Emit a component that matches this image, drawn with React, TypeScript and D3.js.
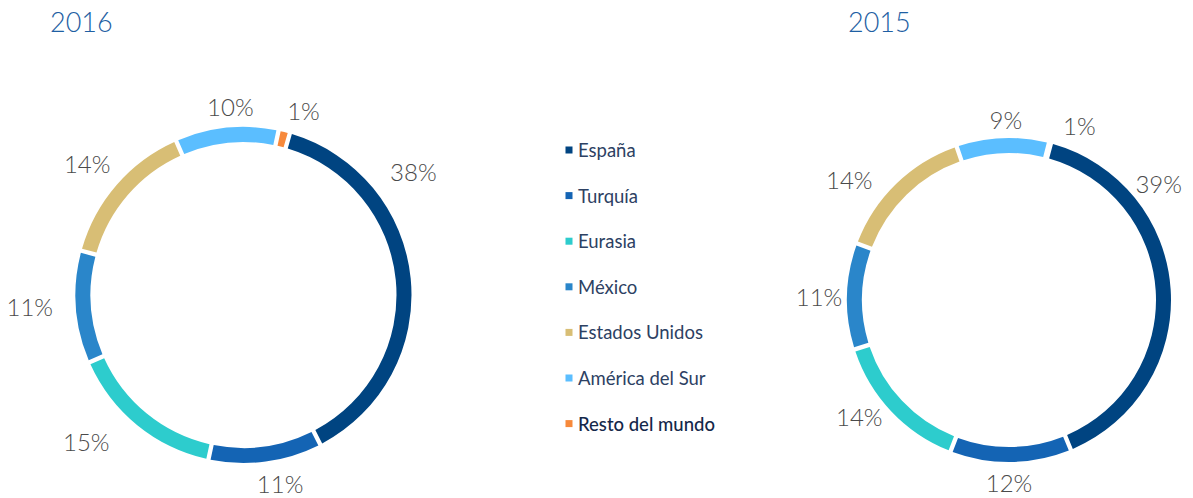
import React from "react";
import * as d3 from "d3";

const categories = ["España", "Turquía", "Eurasia", "México", "Estados Unidos", "América del Sur", "Resto del mundo"];
const colors = ["#004481", "#1464b4", "#2dcccd", "#2a86ca", "#d8be75", "#5bbeff", "#f7893b"];
const values2016 = [38.0, 10.9, 15.1, 10.8, 14.2, 9.9, 1.1];
const labels2016 = ["38%", "11%", "15%", "11%", "14%", "10%", "1%"];
const values2015 = [39.6, 12.1, 14.2, 10.6, 14.1, 9.2, 0.2];
const labels2015 = ["39%", "12%", "14%", "11%", "14%", "9%", "1%"];
const years = ["2016", "2015"];

// label placement (layout): angle in degrees clockwise from top, distance from centre
const labelPlace2016 = [[54, 210], [169, 192], [227, 215], [267, 214], [310, 204], [356, 189], [18, 194]];
const labelPlace2015 = [[52, 190], [180, 182], [232, 190], [271, 190], [307, 200], [359, 181], [22, 188]];

const W = 1193, H = 498;
const FONT = "Lato, 'Open Sans', sans-serif";

function Donut({ cx, cy, R, thick, startDeg, values, labels, place }: any) {
  const start = (startDeg * Math.PI) / 180;
  const pie = d3.pie<number>().sort(null).value((d) => d).startAngle(start).endAngle(start + 2 * Math.PI);
  const arcs = pie(values);
  const arcGen = d3.arc<any>().innerRadius(R - thick).outerRadius(R).padAngle(3.2 / R);
  return (
    <g transform={`translate(${cx},${cy})`}>
      {arcs.map((a, i) => (
        <path key={i} d={arcGen(a) || ""} fill={colors[i]} />
      ))}
      {arcs.map((a, i) => {
        const ang = (place[i][0] * Math.PI) / 180;
        const dist = place[i][1];
        return (
          <text key={"l" + i} x={dist * Math.sin(ang)} y={-dist * Math.cos(ang)} textAnchor="middle"
            dominantBaseline="central" fontFamily={FONT} fontSize={24} fontWeight={300} fill="#4a4a4a">
            {labels[i]}
          </text>
        );
      })}
    </g>
  );
}

export default function App() {
  const legendY0 = 150, legendStep = 45.6;
  return (
    <svg width={W} height={H} style={{ position: "absolute", left: 0, top: 0, background: "#fff" }}>
      <text x={50} y={32} fontFamily={FONT} fontSize={27} fontWeight={300} fill="#1f5fa3">{years[0]}</text>
      <text x={848} y={32} fontFamily={FONT} fontSize={27} fontWeight={300} fill="#1f5fa3">{years[1]}</text>
      <Donut cx={243.5} cy={295} R={168} thick={15} startDeg={16} values={values2016} labels={labels2016} place={labelPlace2016} />
      <Donut cx={1009} cy={300} R={162} thick={15} startDeg={15} values={values2015} labels={labels2015} place={labelPlace2015} />
      <g>
        {categories.map((c, i) => {
          const y = legendY0 + i * legendStep;
          return (
            <g key={c}>
              <rect x={565.5} y={y - 3.5} width={7} height={7} fill={colors[i]} />
              <text x={578} y={y} dominantBaseline="central" fontFamily={FONT} fontSize={18.5}
                fontWeight={i === 6 ? 500 : 400} fill={i === 6 ? "#14284a" : "#2d4163"}>
                {c}
              </text>
            </g>
          );
        })}
      </g>
    </svg>
  );
}
